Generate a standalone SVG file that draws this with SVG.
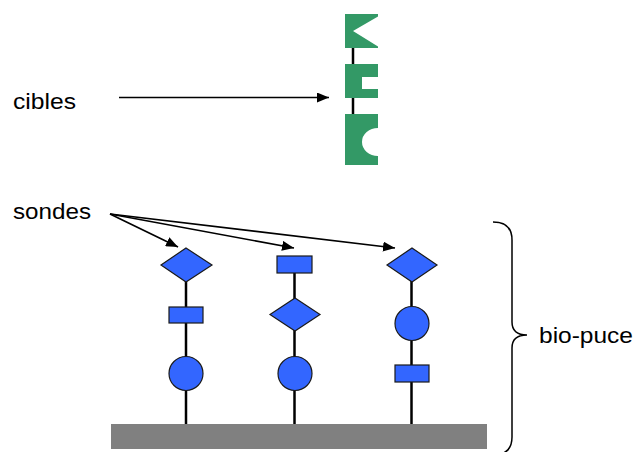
<svg xmlns="http://www.w3.org/2000/svg" width="635" height="452" viewBox="0 0 635 452">
<defs>
<style>
.lbl{font-family:"Liberation Sans",Arial,sans-serif;font-size:22px;fill:#000}
.probe{fill:#3366FF;stroke:#1a1a1a;stroke-width:1.2}
.stem{stroke:#000;stroke-width:2.5;fill:none}
.arr{stroke:#000;stroke-width:1.6;fill:none;marker-end:url(#ah)}
.tgt{fill:#339966}
</style>
<marker id="ah" markerUnits="userSpaceOnUse" markerWidth="14" markerHeight="10" refX="12" refY="5" orient="auto">
<path d="M0,0 L12,5 L0,10 Z" fill="#000"/>
</marker>
</defs>
<rect width="635" height="452" fill="#fff"/>

<g id="cibles-label"><text class="lbl" x="13" y="109" textLength="63" lengthAdjust="spacingAndGlyphs">cibles</text></g>
<g id="sondes-label"><text class="lbl" x="13" y="219" textLength="78" lengthAdjust="spacingAndGlyphs">sondes</text></g>
<g id="biopuce-label"><text class="lbl" x="539" y="343" textLength="94" lengthAdjust="spacingAndGlyphs">bio-puce</text></g>

<g id="target">
<line x1="353" y1="46" x2="353" y2="115" class="stem" stroke-width="2.2"/>
<path class="tgt" d="M345,14 H378 V16.5 L353,31 L378,46.5 V48 H345 Z"/>
<path class="tgt" d="M345,64 H378 V77 H362 V89 H378 V98 H345 Z"/>
<path class="tgt" d="M345,114 H378 V128 A16,14 0 0 0 378,156 V165 H345 Z"/>
</g>

<g id="chip"><rect x="111" y="424" width="376" height="25" fill="#808080"/></g>

<g id="probe1">
<line x1="186" y1="265" x2="186" y2="424" class="stem"/>
<polygon class="probe" points="186,248 212,265 186,282 161,265"/>
<rect class="probe" x="169" y="307" width="34" height="16"/>
<circle class="probe" cx="186" cy="373.5" r="17"/>
</g>

<g id="probe2">
<line x1="294.5" y1="265" x2="294.5" y2="424" class="stem"/>
<rect class="probe" x="277" y="256" width="35" height="17"/>
<polygon class="probe" points="295,298 320,314.5 295,331 270,314.5"/>
<circle class="probe" cx="295" cy="373.5" r="17"/>
</g>

<g id="probe3">
<line x1="411.5" y1="265" x2="411.5" y2="424" class="stem"/>
<polygon class="probe" points="412,248 437,265 412,282 387,265"/>
<circle class="probe" cx="412" cy="323.5" r="17"/>
<rect class="probe" x="395" y="365" width="34" height="17"/>
</g>

<g id="connectors">
<line class="arr" x1="119" y1="97.5" x2="329" y2="97.5"/>
<line class="arr" x1="110" y1="214" x2="178" y2="247"/>
<line class="arr" x1="110" y1="214" x2="294" y2="248"/>
<line class="arr" x1="110" y1="214" x2="395" y2="248"/>
<path d="M493,222 Q512,222 512,240 L512,322 Q512,335 527,335 Q512,335 512,348 L512,437 Q512,455 493,455" stroke="#000" stroke-width="1.5" fill="none"/>
</g>
</svg>
